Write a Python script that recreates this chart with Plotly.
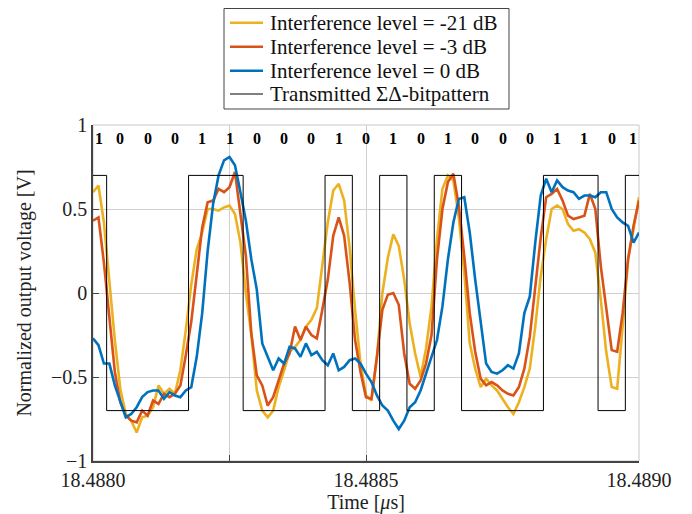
import plotly.graph_objects as go

# ---- data ----
t_start = 18.4880
t_step = 0.00001  # sample spacing in microseconds (101 samples)

lvl_m21 = [0.60, 0.64, 0.42, 0.08, -0.28, -0.57, -0.72, -0.76, -0.83, -0.74,
           -0.73, -0.68, -0.55, -0.60, -0.57, -0.60, -0.46, -0.22, 0.05, 0.26,
           0.36, 0.50, 0.50, 0.49, 0.51, 0.52, 0.47, 0.30, 0.00, -0.25,
           -0.58, -0.70, -0.74, -0.70, -0.56, -0.46, -0.35, -0.32, -0.28, -0.20,
           -0.16, -0.09, 0.15, 0.42, 0.61, 0.65, 0.55, 0.27, -0.10, -0.42,
           -0.61, -0.64, -0.38, 0.00, 0.21, 0.35, 0.28, 0.08, -0.18, -0.36,
           -0.50, -0.33, -0.08, 0.32, 0.62, 0.70, 0.67, 0.45, 0.12, -0.30,
           -0.45, -0.56, -0.51, -0.55, -0.58, -0.63, -0.68, -0.72, -0.65, -0.56,
           -0.45, -0.20, 0.10, 0.32, 0.50, 0.52, 0.50, 0.41, 0.37, 0.38,
           0.36, 0.32, 0.24, -0.04, -0.35, -0.56, -0.57, -0.20, 0.20, 0.38,
           0.57]

lvl_m3 = [0.43, 0.45, 0.18, -0.15, -0.47, -0.65, -0.73, -0.76, -0.77, -0.70,
          -0.73, -0.64, -0.66, -0.60, -0.62, -0.60, -0.55, -0.37, -0.17, 0.11,
          0.39, 0.54, 0.55, 0.62, 0.60, 0.63, 0.72, 0.47, 0.22, -0.24,
          -0.49, -0.55, -0.67, -0.62, -0.52, -0.42, -0.36, -0.20, -0.28, -0.20,
          -0.25, -0.27, -0.10, 0.08, 0.34, 0.45, 0.34, 0.06, -0.28, -0.47,
          -0.62, -0.63, -0.38, -0.10, -0.01, 0.00, -0.07, -0.36, -0.54, -0.57,
          -0.52, -0.42, -0.25, 0.20, 0.50, 0.66, 0.71, 0.52, 0.22, -0.12,
          -0.35, -0.51, -0.55, -0.53, -0.55, -0.58, -0.60, -0.61, -0.56, -0.45,
          -0.26, 0.02, 0.33, 0.57, 0.59, 0.62, 0.55, 0.46, 0.44, 0.45,
          0.46, 0.59, 0.50, 0.16, -0.08, -0.34, -0.35, -0.12, 0.20, 0.40,
          0.55]

lvl_0 = [-0.27, -0.31, -0.42, -0.42, -0.55, -0.64, -0.74, -0.72, -0.68, -0.62,
         -0.59, -0.58, -0.58, -0.63, -0.59, -0.61, -0.62, -0.58, -0.56, -0.38,
         -0.12, 0.25, 0.53, 0.70, 0.79, 0.81, 0.76, 0.60, 0.43, 0.20,
         0.02, -0.30, -0.38, -0.46, -0.39, -0.42, -0.32, -0.33, -0.38, -0.30,
         -0.37, -0.35, -0.40, -0.43, -0.36, -0.46, -0.44, -0.40, -0.39, -0.42,
         -0.48, -0.53, -0.61, -0.67, -0.70, -0.76, -0.81, -0.76, -0.68, -0.65,
         -0.58, -0.48, -0.39, -0.28, -0.08, 0.20, 0.42, 0.56, 0.57, 0.36,
         0.08, -0.16, -0.42, -0.47, -0.48, -0.46, -0.43, -0.45, -0.36, -0.12,
         -0.02, 0.30, 0.58, 0.68, 0.60, 0.67, 0.63, 0.61, 0.60, 0.56,
         0.58, 0.58, 0.57, 0.60, 0.60, 0.50, 0.45, 0.42, 0.40, 0.30,
         0.36]

bits = [1, 0, 0, 0, 1, 1, 0, 0, 0, 1, 0, 1, 0, 1, 0, 0, 0, 1, 1, 0, 1]
bit_start = 18.487975   # start time of first bit
bit_period = 0.00005
bit_level = 0.7
label_y = 0.92

x_tickvals = [18.4880, 18.48825, 18.4885, 18.4890]
x_ticktext = ["18.4880", "", "18.4885", "18.4890"]
y_tickvals = [-1, -0.5, 0, 0.5, 1]
y_ticktext = ["\u22121", "\u22120.5", "0", "0.5", "1"]

names = ["Interference level = -21 dB", "Interference level = -3 dB",
         "Interference level = 0 dB", "Transmitted \u03a3\u0394-bitpattern"]
colors = ["#EDB120", "#D95319", "#0072BD", "#000000"]
widths = [2.6, 2.6, 2.6, 1]

# ---- build ----
t = [t_start + i * t_step for i in range(len(lvl_0))]
bx = [bit_start + k * bit_period for k in range(len(bits) + 1)]
by = [bit_level if b else -bit_level for b in bits] + [bit_level if bits[-1] else -bit_level]

FONT = "Liberation Serif"
FS = 20
W, H = 684, 506
ML, MR, MT, MB = 85, 53, 117, 53
PW, PH = W - ML - MR, H - MT - MB


def px(fx):   # figure px -> paper x
    return (fx - ML) / PW


def py(fy):   # figure px -> paper y
    return (H - MB - fy) / PH


fig = go.Figure()
for ys, nm, c, w in zip([lvl_m21, lvl_m3, lvl_0], names[:3], colors[:3], widths[:3]):
    fig.add_trace(go.Scatter(x=t, y=ys, mode="lines", name=nm, showlegend=False,
                             line=dict(color=c, width=w)))
fig.add_trace(go.Scatter(x=bx, y=by, mode="lines", name=names[3], showlegend=False,
                         line=dict(color=colors[3], width=widths[3], shape="hv")))

# bit labels
n = len(bits)
for k, b in enumerate(bits):
    xc = bit_start + (k + 0.5) * bit_period
    anchor = "center"
    if k == 0:
        xc, anchor = x_tickvals[0], "left"
    elif k == n - 1:
        xc, anchor = x_tickvals[-1], "right"
    fig.add_annotation(x=xc, y=label_y, text="<b>%d</b>" % b, showarrow=False,
                       xanchor=anchor, yanchor="middle",
                       font=dict(family=FONT, size=16, color="black"))

# light grey frame (top/right)
fig.add_shape(type="rect", xref="x domain", yref="y domain", x0=0, x1=1, y0=0, y1=1,
              line=dict(color="#c8c8c8", width=1), layer="below")

# legend box (drawn manually so its size matches the reference)
fig.add_shape(type="rect", xref="paper", yref="paper",
              x0=px(216), x1=px(501), y0=py(101), y1=py(0.5),
              line=dict(color="#444", width=1), fillcolor="white")
row_y = [14.7, 38.7, 62.7, 86.0]
for nm, c, w, ry in zip(names, colors, widths, row_y):
    fig.add_shape(type="line", xref="paper", yref="paper",
                  x0=px(222), x1=px(255), y0=py(ry), y1=py(ry),
                  line=dict(color=c, width=w))
    fig.add_annotation(xref="paper", yref="paper", x=px(260), y=py(ry), text=nm,
                       showarrow=False, xanchor="left", yanchor="middle",
                       font=dict(family=FONT, size=21, color="#111"))

fig.update_layout(
    width=W, height=H,
    margin=dict(l=ML, r=MR, t=MT, b=MB, autoexpand=False),
    paper_bgcolor="white", plot_bgcolor="white",
    font=dict(family=FONT, size=FS, color="#222"),
    showlegend=False,
)
fig.update_xaxes(range=[18.4880, 18.4890], tickvals=x_tickvals, ticktext=x_ticktext,
                 showgrid=True, gridcolor="#d0d0d0", gridwidth=1,
                 ticks="inside", ticklen=6, tickcolor="#444",
                 showline=True, linecolor="#444", linewidth=1.5, zeroline=False,
                 tickfont=dict(family=FONT, size=FS),
                 title=dict(text="Time [<i>\u03bc</i>s]", font=dict(family=FONT, size=FS), standoff=6))
fig.update_yaxes(range=[-1, 1], tickvals=y_tickvals, ticktext=y_ticktext,
                 showgrid=True, gridcolor="#d0d0d0", gridwidth=1,
                 ticks="inside", ticklen=6, tickcolor="#444",
                 showline=True, linecolor="#444", linewidth=1.5, zeroline=False,
                 tickfont=dict(family=FONT, size=FS),
                 title=dict(text="Normalized output voltage [V]", font=dict(family=FONT, size=FS), standoff=14))

fig.write_html("out.html")
